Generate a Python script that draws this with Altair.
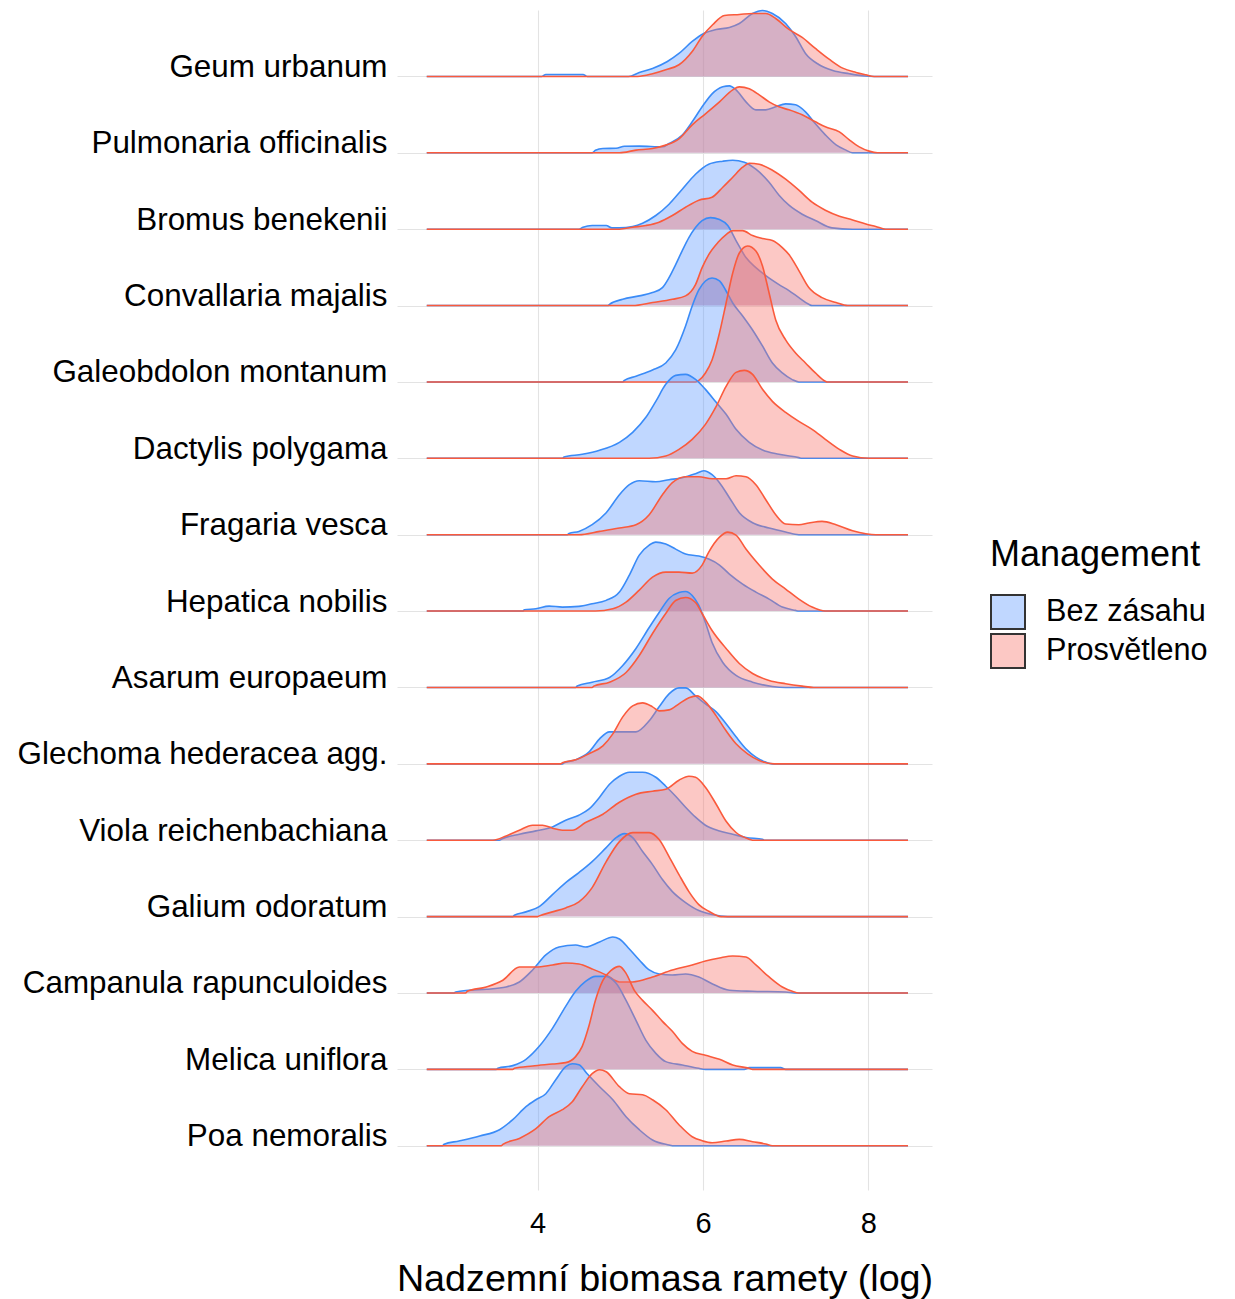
import altair as alt
import pandas as pd

# ---------------------------------------------------------------- data
SPECIES = [
    "Geum urbanum", "Pulmonaria officinalis", "Bromus benekenii",
    "Convallaria majalis", "Galeobdolon montanum", "Dactylis polygama",
    "Fragaria vesca", "Hepatica nobilis", "Asarum europaeum",
    "Glechoma hederacea agg.", "Viola reichenbachiana", "Galium odoratum",
    "Campanula rapunculoides", "Melica uniflora", "Poa nemoralis",
]
GROUPS = ["Bez zásahu", "Prosvětleno"]
X_MIN, X_MAX = 2.66, 8.48          # range of the density estimate
X_TICKS = [4, 6, 8]

# (x, relative density) pairs
GEUM_BEZ = [(4.05, 0), (4.10, 2), (4.55, 2), (4.60, 0), (5.10, 0), (5.23, 4), (5.39, 8), (5.57, 15),
            (5.71, 23), (5.87, 35), (6.01, 43), (6.16, 47), (6.32, 49), (6.44, 53), (6.60, 63),
            (6.72, 66), (6.84, 63), (7.00, 53), (7.12, 40), (7.24, 23), (7.40, 12), (7.57, 6),
            (7.77, 2.7), (7.93, 0.7), (8.07, 0)]
GEUM_PROS = [(5.21, 0), (5.39, 2.7), (5.55, 6.7), (5.71, 11.7), (5.87, 25), (5.99, 40), (6.12, 52),
             (6.26, 61), (6.44, 62), (6.60, 63), (6.76, 63), (6.88, 58), (7.04, 47), (7.20, 39),
             (7.36, 28), (7.53, 17), (7.69, 8.3), (7.85, 4), (7.97, 1.7), (8.07, 0)]
PULM_BEZ = [(4.66, 0), (4.70, 2.5), (4.79, 4.3), (4.95, 4.5), (5.05, 6.5), (5.23, 6.7), (5.51, 6),
            (5.59, 9.3), (5.75, 17.7), (5.87, 31), (5.99, 46), (6.11, 59), (6.24, 66), (6.32, 67),
            (6.40, 63), (6.52, 51), (6.64, 43), (6.76, 43), (6.88, 46), (7.00, 49), (7.12, 48),
            (7.24, 41), (7.36, 29), (7.48, 18), (7.61, 8), (7.73, 2.7), (7.81, 0)]
PULM_PROS = [(4.99, 0), (5.19, 2.7), (5.39, 4.3), (5.55, 7.7), (5.71, 14), (5.87, 28), (6.03, 39),
             (6.20, 51), (6.36, 63), (6.44, 66), (6.56, 64), (6.68, 58), (6.80, 51), (6.92, 46),
             (7.04, 43), (7.20, 38), (7.36, 31), (7.48, 26), (7.65, 21), (7.77, 13), (7.89, 6),
             (8.01, 1.7), (8.11, 0)]
BROM_BEZ = [(4.50, 0), (4.55, 2), (4.66, 3.7), (4.83, 3.7), (4.90, 1.3), (4.99, 1.3), (5.15, 2.7),
            (5.27, 6), (5.43, 13.7), (5.59, 25), (5.75, 40), (5.91, 55), (6.07, 65), (6.24, 68),
            (6.36, 69), (6.50, 67), (6.64, 60), (6.80, 47), (6.92, 34), (7.04, 24), (7.20, 15),
            (7.36, 8.7), (7.56, 1.3), (7.81, 0)]
BROM_PROS = [(4.99, 0), (5.15, 2), (5.31, 3.7), (5.47, 7), (5.63, 13.7), (5.79, 22), (5.95, 29),
             (6.11, 32), (6.24, 42), (6.36, 52), (6.48, 62), (6.56, 66), (6.68, 65), (6.84, 59),
             (7.00, 50), (7.16, 39), (7.32, 27), (7.48, 19), (7.65, 13), (7.81, 9.3), (7.97, 5.3),
             (8.09, 2.7), (8.21, 0)]
CONV_BEZ = [(4.85, 0), (4.87, 1.3), (5.03, 6.3), (5.23, 9.7), (5.39, 13), (5.51, 18), (5.59, 28),
            (5.67, 41), (5.75, 55), (5.83, 68), (5.91, 78), (5.99, 85), (6.09, 88), (6.20, 86),
            (6.30, 80), (6.40, 65), (6.52, 48), (6.64, 38), (6.76, 30), (6.92, 21), (7.04, 15),
            (7.16, 8), (7.28, 1.3), (7.32, 0)]
CONV_PROS = [(5.15, 0), (5.39, 3), (5.63, 6.3), (5.79, 9.7), (5.91, 21), (5.99, 38), (6.07, 51),
             (6.18, 63), (6.28, 71), (6.36, 75), (6.48, 75), (6.60, 70), (6.72, 67), (6.84, 65),
             (6.96, 58), (7.04, 51), (7.16, 35), (7.28, 18), (7.44, 8), (7.61, 3), (7.75, 0)]
GALE_BEZ = [(5.03, 0), (5.05, 1.5), (5.19, 5.7), (5.39, 12), (5.55, 19), (5.67, 32), (5.79, 56),
            (5.87, 76), (5.95, 92), (6.03, 101), (6.11, 104), (6.20, 101), (6.28, 91), (6.36, 79),
            (6.48, 66), (6.60, 52), (6.72, 36), (6.84, 19), (6.96, 9), (7.08, 2.3), (7.16, 0)]
GALE_PROS = [(5.91, 0), (5.95, 1.5), (6.03, 9), (6.11, 22), (6.20, 49), (6.28, 79), (6.36, 109),
             (6.44, 129), (6.54, 136), (6.64, 131), (6.72, 116), (6.80, 89), (6.88, 62), (7.00, 42),
             (7.12, 29), (7.24, 19), (7.36, 9), (7.48, 0.7), (7.50, 0)]
DACT_BEZ = [(4.30, 0), (4.32, 1.3), (4.54, 4), (4.75, 8), (4.99, 16), (5.15, 26), (5.31, 41),
            (5.43, 57), (5.55, 74), (5.67, 83), (5.79, 84), (5.91, 79), (6.03, 69), (6.16, 56),
            (6.28, 44), (6.40, 29), (6.56, 16), (6.72, 8.3), (6.92, 4), (7.16, 0.7), (7.20, 0)]
DACT_PROS = [(5.35, 0), (5.55, 2.3), (5.71, 9), (5.87, 19), (6.03, 34), (6.16, 52), (6.28, 72),
             (6.40, 86), (6.50, 88), (6.60, 84), (6.72, 69), (6.84, 57), (7.00, 46), (7.16, 37),
             (7.32, 29), (7.48, 19), (7.65, 9), (7.81, 2.3), (8.01, 0)]
FRAG_BEZ = [(4.36, 0), (4.38, 1.3), (4.50, 3.3), (4.66, 10), (4.83, 22), (4.99, 40), (5.11, 50),
            (5.23, 54), (5.43, 53), (5.59, 55), (5.75, 57), (5.91, 61), (6.01, 64), (6.11, 60),
            (6.20, 52), (6.32, 37), (6.44, 22), (6.60, 12), (6.80, 6.7), (7.00, 2.7), (7.16, 0)]
FRAG_PROS = [(4.50, 0), (4.75, 3.3), (4.99, 6.7), (5.19, 10), (5.35, 20), (5.51, 40), (5.63, 52),
             (5.79, 58), (5.95, 58), (6.11, 56), (6.28, 56), (6.40, 59), (6.52, 58), (6.64, 50),
             (6.76, 35), (6.88, 20), (7.00, 10.7), (7.16, 10), (7.28, 11.7), (7.44, 13.3),
             (7.61, 10), (7.81, 4), (7.97, 1), (8.09, 0)]
HEPA_BEZ = [(3.82, 0), (3.84, 1.3), (3.98, 2.3), (4.14, 5), (4.30, 4), (4.50, 4.7), (4.66, 7.3),
            (4.83, 10.7), (4.99, 19), (5.11, 36), (5.23, 56), (5.35, 66), (5.43, 69), (5.55, 67),
            (5.67, 62), (5.79, 57), (5.95, 55), (6.07, 52), (6.20, 46), (6.32, 37), (6.48, 27),
            (6.64, 19), (6.80, 12), (6.96, 4), (7.12, 0.7), (7.16, 0)]
HEPA_PROS = [(4.70, 0), (4.91, 2.3), (5.07, 9), (5.23, 21), (5.39, 34), (5.55, 39), (5.71, 39),
             (5.87, 38), (5.99, 46), (6.07, 59), (6.20, 74), (6.30, 79), (6.40, 76), (6.52, 62),
             (6.68, 46), (6.84, 32), (7.00, 22), (7.16, 12), (7.32, 4), (7.48, 0)]
ASAR_BEZ = [(4.46, 0), (4.48, 1.5), (4.66, 5.3), (4.87, 10), (5.03, 22), (5.19, 39), (5.35, 60),
            (5.47, 75), (5.59, 89), (5.71, 95), (5.79, 96), (5.87, 92), (5.95, 82), (6.03, 65),
            (6.11, 45), (6.24, 25), (6.40, 12), (6.60, 5.3), (6.84, 1), (7.00, 0)]
ASAR_PROS = [(4.66, 0), (4.68, 1.3), (4.87, 5.3), (5.07, 15), (5.23, 32), (5.39, 54), (5.55, 74),
             (5.67, 87), (5.79, 90), (5.91, 85), (5.99, 74), (6.11, 57), (6.28, 39), (6.44, 24),
             (6.60, 14), (6.80, 7), (7.00, 3.7), (7.20, 1.3), (7.34, 0)]
GLEC_BEZ = [(4.30, 0), (4.32, 1), (4.46, 4), (4.62, 11.7), (4.75, 25), (4.87, 32), (5.03, 32),
            (5.19, 32), (5.35, 43), (5.47, 57), (5.59, 70), (5.71, 76), (5.79, 76), (5.91, 68),
            (6.03, 60), (6.16, 52), (6.28, 40), (6.40, 27), (6.52, 15), (6.64, 6.7), (6.76, 1.7),
            (6.84, 0)]
GLEC_PROS = [(4.28, 0), (4.30, 1), (4.46, 4), (4.62, 10), (4.79, 18), (4.91, 30), (5.03, 47),
             (5.15, 58), (5.27, 61), (5.39, 57), (5.47, 53), (5.59, 54), (5.71, 60), (5.83, 66),
             (5.93, 68), (6.03, 62), (6.16, 48), (6.28, 33), (6.40, 20), (6.54, 10), (6.68, 3.3),
             (6.86, 0)]
VIOL_BEZ = [(3.54, 0), (3.56, 1), (3.78, 6), (3.98, 9.3), (4.18, 13.3), (4.34, 20), (4.50, 25),
            (4.62, 31), (4.75, 43), (4.87, 56), (4.99, 64), (5.11, 68), (5.27, 68), (5.43, 63),
            (5.55, 54), (5.67, 44), (5.79, 33), (5.91, 23), (6.03, 15), (6.20, 9.3), (6.36, 6),
            (6.52, 2.7), (6.72, 1), (6.74, 0)]
VIOL_PROS = [(3.46, 0), (3.62, 4.3), (3.78, 10), (3.94, 15), (4.06, 15), (4.18, 12), (4.30, 10),
             (4.42, 10), (4.58, 17.7), (4.79, 26), (4.99, 38), (5.19, 46), (5.39, 49), (5.55, 51),
             (5.71, 60), (5.83, 64), (5.91, 63), (6.03, 53), (6.16, 36), (6.28, 19), (6.40, 7.7),
             (6.56, 1), (6.60, 0)]
GALI_BEZ = [(3.70, 0), (3.72, 1.3), (3.86, 4.7), (4.02, 10), (4.18, 22), (4.34, 34), (4.50, 44),
            (4.66, 55), (4.83, 69), (4.95, 79), (5.05, 83), (5.15, 79), (5.27, 65), (5.39, 52),
            (5.51, 37), (5.63, 25), (5.79, 14), (5.95, 6), (6.11, 2), (6.30, 0)]
GALI_PROS = [(4.00, 0), (4.02, 0.7), (4.18, 4.7), (4.34, 8.7), (4.50, 14.7), (4.66, 29), (4.83, 55),
             (4.99, 75), (5.15, 84), (5.35, 84), (5.47, 77), (5.59, 60), (5.71, 42), (5.83, 25),
             (5.95, 12), (6.07, 5.3), (6.22, 0)]
CAMP_BEZ = [(2.99, 0), (3.01, 1), (3.17, 2.7), (3.38, 3.7), (3.62, 6), (3.78, 11), (3.94, 23),
            (4.10, 38), (4.26, 46), (4.46, 48), (4.58, 46), (4.75, 51), (4.91, 56), (4.99, 54),
            (5.11, 44), (5.23, 33), (5.35, 23), (5.47, 19), (5.63, 18), (5.79, 19), (5.95, 16),
            (6.11, 9.3), (6.32, 2.7), (6.60, 1.7), (7.00, 1), (7.14, 0)]
CAMP_PROS = [(3.13, 0), (3.15, 1.7), (3.38, 6), (3.58, 12.7), (3.78, 26), (3.98, 26), (4.18, 28),
             (4.34, 30), (4.50, 29), (4.66, 24), (4.83, 18), (4.99, 11), (5.15, 11), (5.39, 16),
             (5.63, 23), (5.87, 28), (6.03, 32), (6.20, 35), (6.36, 37), (6.52, 36), (6.64, 28),
             (6.80, 16), (6.96, 6), (7.08, 1.7), (7.16, 0)]
MELI_BEZ = [(3.50, 0), (3.52, 1), (3.70, 3.7), (3.86, 10), (4.02, 23), (4.18, 41), (4.34, 63),
            (4.46, 78), (4.58, 88), (4.70, 93), (4.83, 93), (4.95, 86), (5.07, 69), (5.19, 49),
            (5.31, 29), (5.43, 16), (5.55, 7.7), (5.75, 4.3), (5.95, 1), (6.03, 0), (6.50, 0),
            (6.56, 1.7), (6.94, 1.7), (7.00, 0)]
MELI_PROS = [(3.70, 0), (3.72, 1), (3.94, 3.3), (4.18, 5.3), (4.34, 6.7), (4.46, 12.7), (4.54, 23),
             (4.62, 43), (4.70, 69), (4.79, 89), (4.89, 99), (4.99, 103), (5.07, 96), (5.17, 79),
             (5.27, 69), (5.39, 59), (5.51, 48), (5.63, 38), (5.75, 26), (5.87, 18), (6.03, 14),
             (6.20, 10), (6.36, 4.3), (6.56, 1), (6.60, 0)]
POA_BEZ = [(2.85, 0), (2.87, 1.5), (3.05, 4.7), (3.30, 9.7), (3.54, 16), (3.70, 26), (3.86, 39),
           (3.98, 46), (4.10, 52), (4.22, 66), (4.34, 79), (4.42, 82), (4.50, 81), (4.60, 72),
           (4.75, 59), (4.91, 46), (5.07, 29), (5.23, 16), (5.39, 5.7), (5.59, 0.7), (5.63, 0)]
POA_PROS = [(3.56, 0), (3.58, 1.3), (3.78, 7.3), (3.98, 17), (4.14, 29), (4.30, 36), (4.42, 44),
            (4.54, 59), (4.66, 72), (4.75, 76), (4.83, 74), (4.99, 59), (5.11, 52), (5.27, 51),
            (5.39, 46), (5.55, 36), (5.71, 21), (5.87, 9), (5.99, 5), (6.11, 3), (6.28, 4.7),
            (6.44, 6.3), (6.60, 4), (6.76, 1.7), (6.84, 0)]

CURVE_SETS = [
    (GEUM_BEZ, GEUM_PROS), (PULM_BEZ, PULM_PROS), (BROM_BEZ, BROM_PROS),
    (CONV_BEZ, CONV_PROS), (GALE_BEZ, GALE_PROS), (DACT_BEZ, DACT_PROS),
    (FRAG_BEZ, FRAG_PROS), (HEPA_BEZ, HEPA_PROS), (ASAR_BEZ, ASAR_PROS),
    (GLEC_BEZ, GLEC_PROS), (VIOL_BEZ, VIOL_PROS), (GALI_BEZ, GALI_PROS),
    (CAMP_BEZ, CAMP_PROS), (MELI_BEZ, MELI_PROS), (POA_BEZ, POA_PROS),
]

# ---------------------------------------------------------------- styling
FONT = "Liberation Sans"
FILL = {"Bez zásahu": "#619CFF", "Prosvětleno": "#F8766D"}
LINE = {"Bez zásahu": "#3A8BF7", "Prosvětleno": "#FA5A3C"}
LEGEND_FILL = ["#C0D7FF", "#FCC8C4"]
RIDGE_SCALE = 1 / 76.4       # rows per density unit
GRID = "#E3E3E3"

n = len(SPECIES)
records = []
cid = 0
for i, (sp, pair) in enumerate(zip(SPECIES, CURVE_SETS)):
    base = n - 1 - i
    for g, pts in zip(GROUPS, pair):
        full = [(X_MIN, 0.0)] + list(pts) + [(X_MAX, 0.0)]
        for x, d in full:
            records.append({"curve": cid, "species": sp, "group": g, "x": x,
                            "density": d, "base": base, "top": base + d * RIDGE_SCALE})
        cid += 1
df = pd.DataFrame(records)

x_scale = alt.Scale(domain=[2.30, 8.77], nice=False, zero=False)
y_scale = alt.Scale(domain=[-0.58, 14.87], nice=False, zero=False)

label_list = "[" + ",".join("'" + s + "'" for s in SPECIES[::-1]) + "]"
x_axis = alt.Axis(values=X_TICKS, grid=True, gridColor=GRID, gridWidth=1.1, ticks=False,
                  domain=False, labelFontSize=29, labelPadding=19, labelFont=FONT,
                  labelColor="#000000", title="Nadzemní biomasa ramety (log)",
                  titleFontSize=37.7, titleFont=FONT, titleFontWeight="normal",
                  titleColor="#000000", titlePadding=22, titleLimit=800)
y_axis = alt.Axis(values=list(range(n)), grid=True, gridColor=GRID, gridWidth=1.1, ticks=False,
                  domain=False, labelExpr=label_list + "[datum.value]", labelFontSize=31.4,
                  labelFont=FONT, labelColor="#000000", labelPadding=10, labelLimit=700,
                  labelBaseline="alphabetic", labelOverlap=False, title=None)

X = alt.X("x:Q", scale=x_scale, axis=x_axis)
Y = alt.Y("top:Q", scale=y_scale, axis=y_axis)

layers = []
cid = 0
for i, sp in enumerate(SPECIES):
    for g in GROUPS:
        flt = f"datum.curve == {cid}"
        area = alt.Chart().mark_area(interpolate="monotone", color=FILL[g], fillOpacity=0.4) \
            .encode(x=X, y=Y, y2="base:Q").transform_filter(flt)
        line = alt.Chart().mark_line(interpolate="monotone", color=LINE[g], strokeWidth=1.6) \
            .encode(x=X, y=Y).transform_filter(flt)
        layers += [area, line]
        cid += 1

legend_df = pd.DataFrame({"x": [0.0, 0.0], "top": [0.0, 0.0], "group": GROUPS})
legend_layer = alt.Chart(legend_df).mark_point(shape="square", filled=True, clip=True).encode(
    x=X, y=Y,
    fill=alt.Fill("group:N", scale=alt.Scale(domain=GROUPS, range=LEGEND_FILL),
                  legend=alt.Legend(title="Management", orient="none", legendX=593, legendY=528,
                                    symbolType="square", symbolSize=1156,
                                    symbolStrokeColor="#333333", symbolStrokeWidth=2,
                                    symbolOpacity=1, labelFontSize=30.6, labelFont=FONT,
                                    labelColor="#000000", titleFontSize=36, titleFont=FONT,
                                    titleFontWeight="normal", titleColor="#000000",
                                    titleLimit=500, labelLimit=500,
                                    titlePadding=20, rowPadding=-4, labelOffset=20, padding=0)),
)
layers.append(legend_layer)

chart = alt.layer(*layers, data=df).properties(
    width=535, height=1180,
    padding={"left": 389, "top": 2, "right": 290, "bottom": 109},
    autosize=alt.AutoSizeParams(type="none"),
).configure_view(stroke=None)

chart.save("out.html", embed_options={"renderer": "svg", "actions": False})
